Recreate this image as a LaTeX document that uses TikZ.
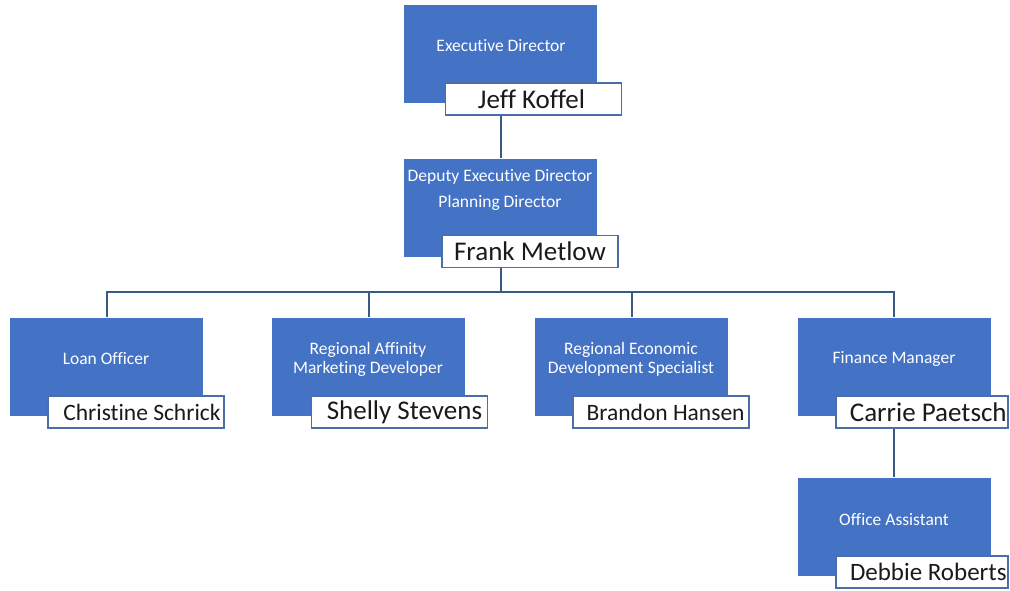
\documentclass[tikz,border=0pt]{standalone}
\usepackage{fontspec}
\setmainfont{Carlito}[Ligatures={NoCommon}]
\definecolor{boxblue}{HTML}{4472C4}
\definecolor{edgeblue}{HTML}{4A6FA8}
\definecolor{lineblue}{HTML}{3A5A85}
\definecolor{namefg}{HTML}{1A1A1A}
\tikzset{
  rolebox/.style={fill=boxblue, draw=none, minimum width=193pt, minimum height=98pt, inner sep=0pt},
  roletext/.style={text=white, font=\fontsize{17.5}{19}\selectfont, align=center, inner sep=0pt},
  namebox/.style={fill=white, draw=edgeblue, line width=1.6pt, minimum width=176pt, minimum height=32pt, inner sep=0pt},
  nametext/.style={text=namefg, inner sep=0pt},
  conn/.style={draw=lineblue, line width=2pt}
}
\begin{document}
\begin{tikzpicture}[x=1pt,y=-1pt]
\useasboundingbox (0,0) rectangle (1010,590);
% role boxes
\node[rolebox] (ed) at (500.5,54) {};
\node[rolebox] (dd) at (500.5,207.5) {};
\node[rolebox] (lo) at (106.5,366.5) {};
\node[rolebox] (ra) at (368.5,366.5) {};
\node[rolebox] (re) at (631.5,366.5) {};
\node[rolebox] (fm) at (894,366.5) {};
\node[rolebox] (oa) at (894,526.5) {};
% role texts
\node[roletext] (edt) at (501,46) {Executive Director};
\node[roletext] (ddt1) at (500,177) {Deputy Executive Director};
\node[roletext] (ddt2) at (500,203) {Planning Director};
\node[roletext] (lot) at (106,359) {Loan Officer};
\node[roletext] (rat) at (368,359) {Regional Affinity\\Marketing Developer};
\node[roletext] (ret) at (631,359) {Regional Economic\\Development Specialist};
\node[roletext] (fmt) at (894,359) {Finance Manager};
\node[roletext] (oat) at (894,520) {Office Assistant};
% name boxes
\node[namebox] (edn) at (533.5,99) {};
\node[namebox] (ddn) at (530,251.5) {};
\node[namebox] (lon) at (136,412) {};
\node[namebox] (ran) at (399.5,412) {};
\node[namebox] (ren) at (661,412) {};
\node[namebox, minimum width=172pt] (fmn) at (922,412) {};
\node[namebox, minimum width=172pt] (oan) at (922,572) {};
% name texts
\node[nametext, font=\fontsize{27}{30}\selectfont] (ednt) at (531.5,99) {Jeff Koffel};
\node[nametext, font=\fontsize{27}{30}\selectfont] (ddnt) at (530,251.5) {Frank Metlow};
\node[nametext, font=\fontsize{23.5}{27}\selectfont, anchor=east] (lont) at ([xshift=-4pt]lon.east) {Christine Schrick};
\node[nametext, font=\fontsize{27}{30}\selectfont, anchor=east] (rant) at ([xshift=-6pt]ran.east) {Shelly Stevens};
\node[nametext, font=\fontsize{23.5}{27}\selectfont, anchor=east] (rent) at ([xshift=-5pt]ren.east) {Brandon Hansen};
\node[nametext, font=\fontsize{27}{30}\selectfont, anchor=east] (fmnt) at ([xshift=-2pt]fmn.east) {Carrie Paetsch};
\node[nametext, font=\fontsize{25}{28}\selectfont, anchor=east] (oant) at ([xshift=-2pt]oan.east) {Debbie Roberts};
% connectors
\coordinate (bus) at (500.5,292);
\draw[conn] (edn.south -| dd.north) -- (dd.north);
\draw[conn] (ddn.south -| dd.north) -- (bus);
\draw[conn] (lo.north) |- (bus);
\draw[conn] (ra.north) |- (bus);
\draw[conn] (re.north) |- (bus);
\draw[conn] (fm.north) |- (bus);
\draw[conn] (fmn.south -| oa.north) -- (oa.north);
\end{tikzpicture}
\end{document}
